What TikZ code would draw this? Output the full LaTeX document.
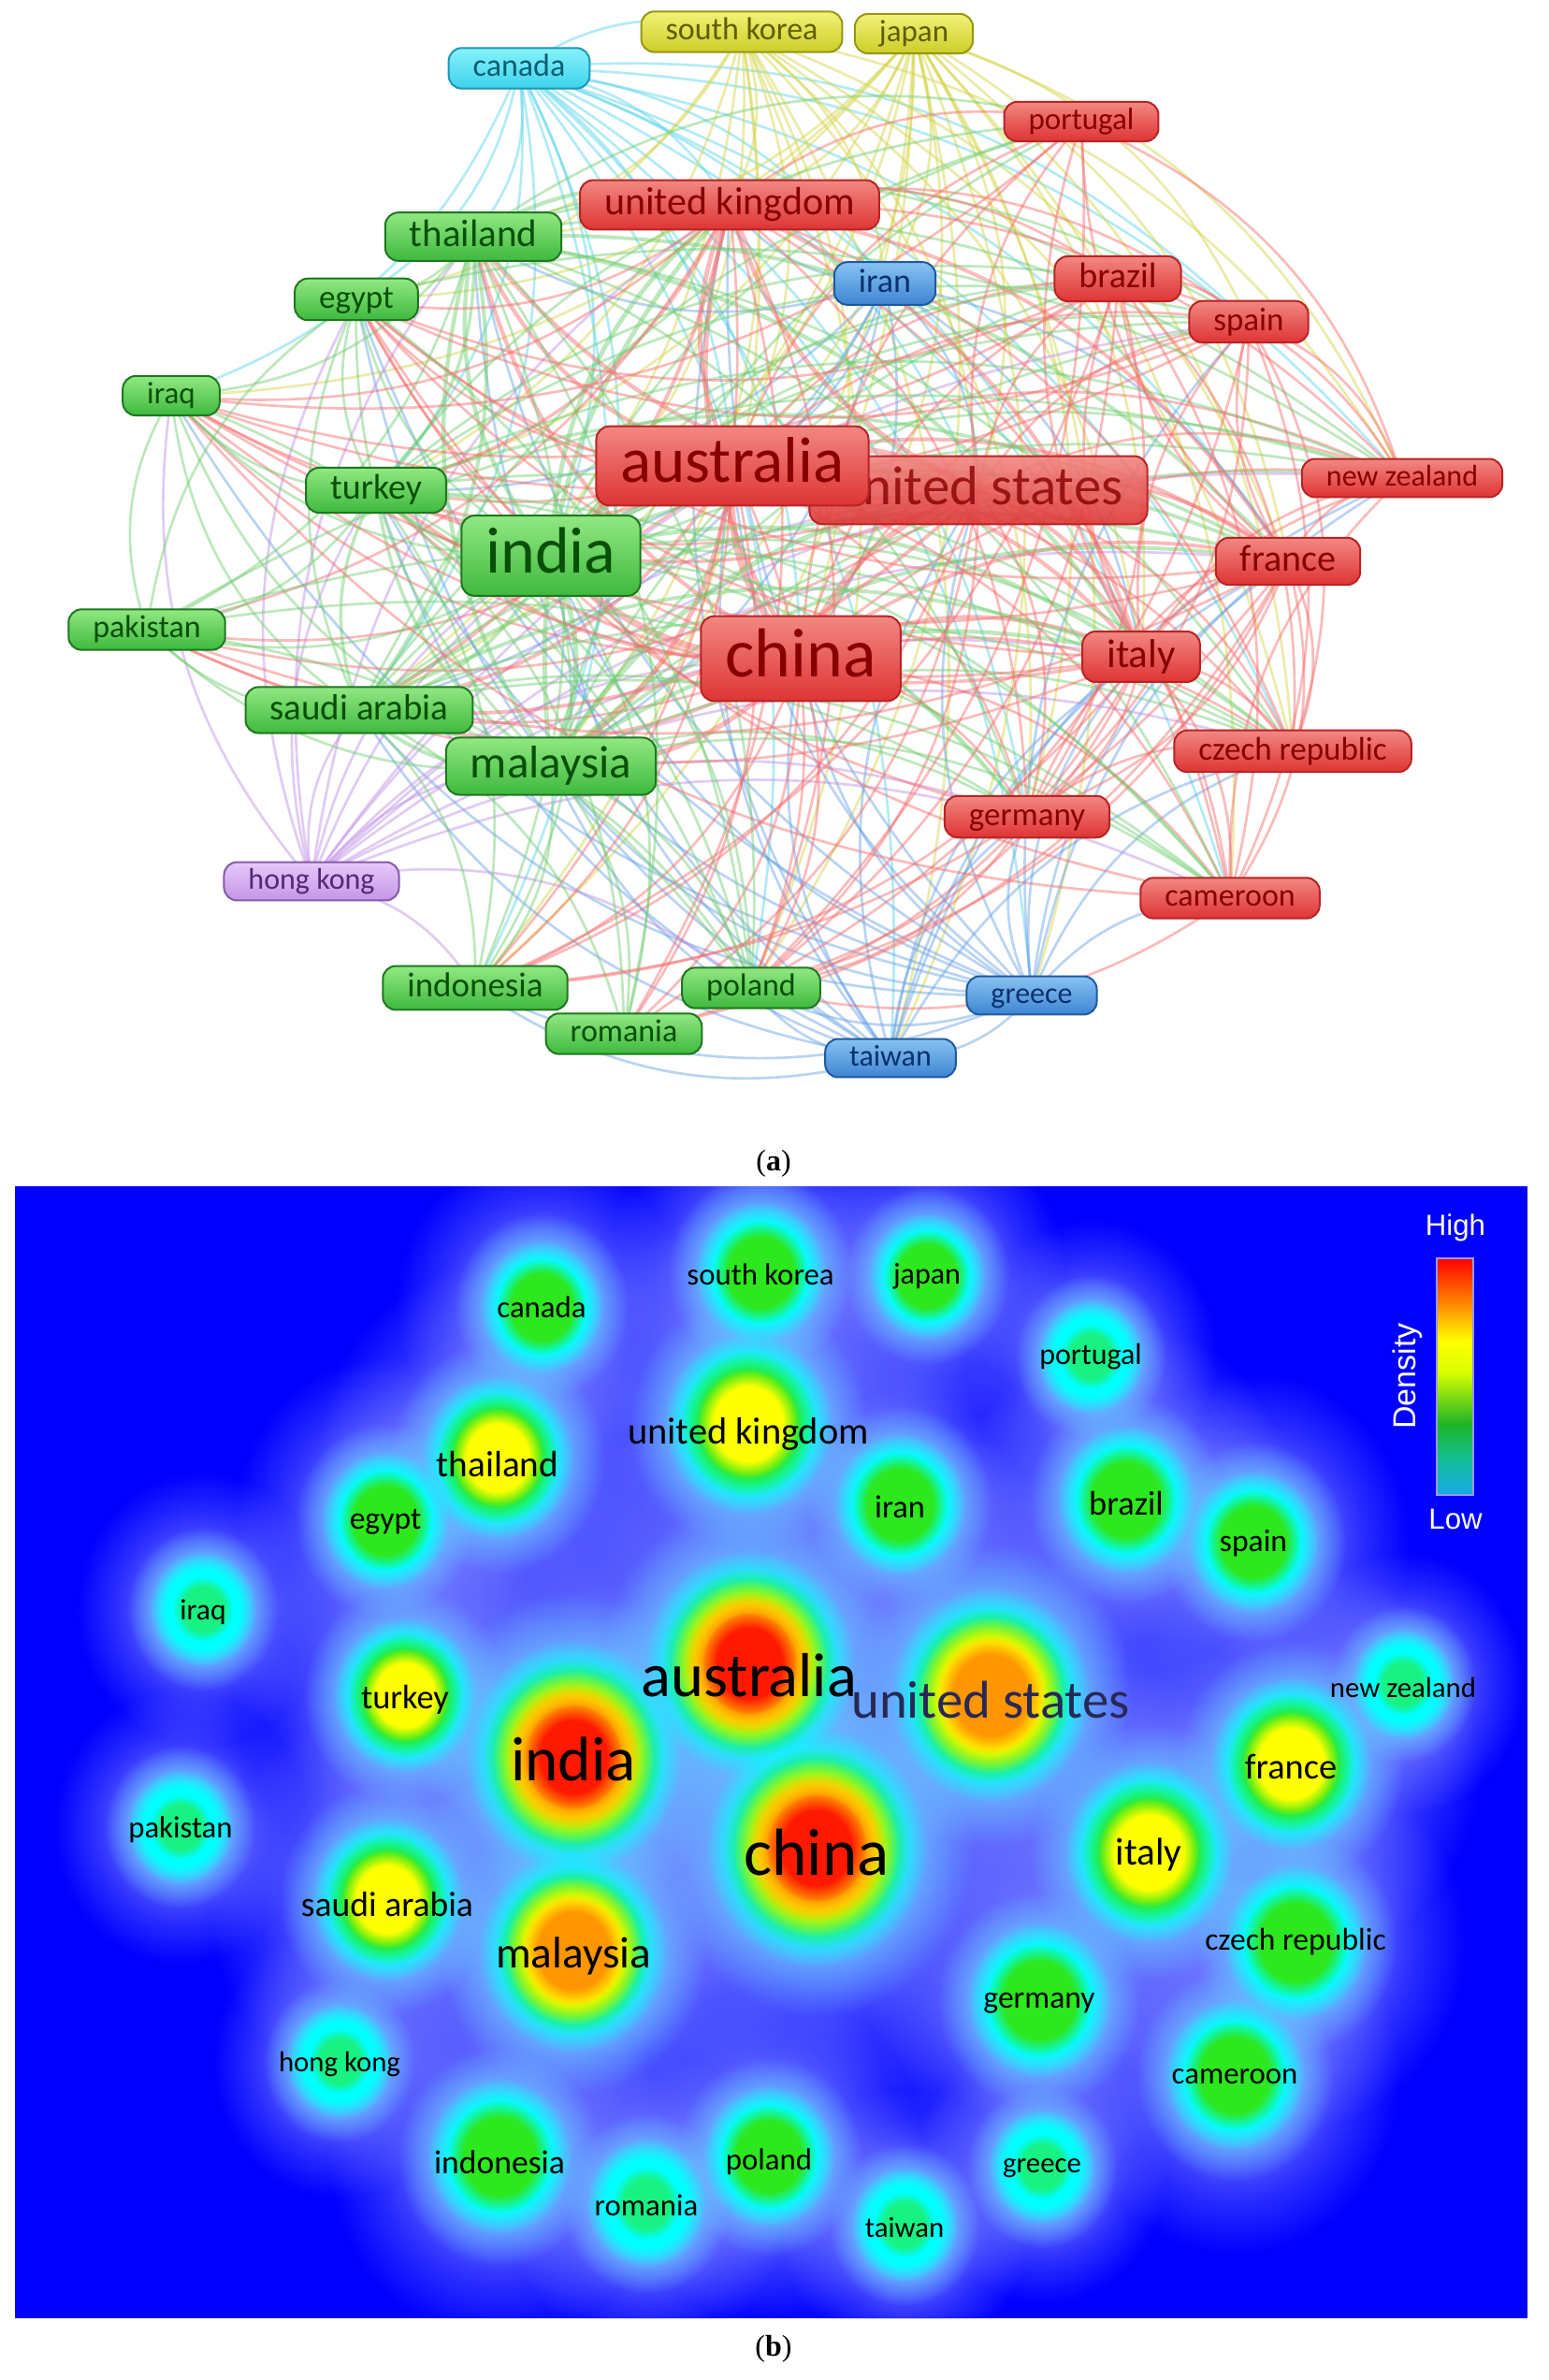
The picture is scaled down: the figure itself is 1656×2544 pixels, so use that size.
\documentclass[tikz,border=0pt]{standalone}
\usepackage{fontspec}
\setmainfont{Carlito}
\newfontfamily\capfont{Liberation Serif}
\newfontfamily\legfont{Liberation Sans}
\usetikzlibrary{fadings}
\pgfdeclarelayer{heatlayer}
\pgfdeclarelayer{edgelayer}
\pgfsetlayers{heatlayer,edgelayer,main}

% node colours
\definecolor{rdT}{RGB}{242,135,130}\definecolor{rdB}{RGB}{222,52,52}\definecolor{rdD}{RGB}{185,35,35}\definecolor{rdX}{RGB}{135,0,0}
\definecolor{grT}{RGB}{145,232,130}\definecolor{grB}{RGB}{62,185,62}\definecolor{grD}{RGB}{30,120,30}\definecolor{grX}{RGB}{8,80,8}
\definecolor{blT}{RGB}{135,195,242}\definecolor{blB}{RGB}{62,132,210}\definecolor{blD}{RGB}{30,90,160}\definecolor{blX}{RGB}{10,50,110}
\definecolor{yeT}{RGB}{242,242,120}\definecolor{yeB}{RGB}{205,205,40}\definecolor{yeD}{RGB}{150,150,20}\definecolor{yeX}{RGB}{95,95,0}
\definecolor{cyT}{RGB}{135,242,252}\definecolor{cyB}{RGB}{60,210,235}\definecolor{cyD}{RGB}{30,150,180}\definecolor{cyX}{RGB}{10,95,115}
\definecolor{puT}{RGB}{232,200,250}\definecolor{puB}{RGB}{195,150,230}\definecolor{puD}{RGB}{130,90,170}\definecolor{puX}{RGB}{85,40,115}
% edge colours
\definecolor{erd}{RGB}{245,105,105}\definecolor{egr}{RGB}{110,205,110}\definecolor{ebl}{RGB}{100,160,230}
\definecolor{eye}{RGB}{212,212,70}\definecolor{ecy}{RGB}{85,212,235}\definecolor{epu}{RGB}{190,140,230}
% heat colours
\definecolor{hbg}{RGB}{0,0,255}\definecolor{hhalo}{RGB}{125,135,255}\definecolor{hsky}{RGB}{100,190,255}\definecolor{hcy}{RGB}{0,255,255}
\definecolor{hgr}{RGB}{45,232,30}\definecolor{hye}{RGB}{255,255,0}\definecolor{hor}{RGB}{255,150,0}\definecolor{hrd}{RGB}{255,25,0}
\definecolor{barbot}{RGB}{25,170,235}\definecolor{barteal}{RGB}{20,190,150}\definecolor{bargr}{RGB}{30,180,40}
\definecolor{uslab}{RGB}{40,40,85}

\pgfdeclareradialshading{shSoft}{\pgfpointorigin}{color(0bp)=(white); color(17bp)=(white); color(25bp)=(black); color(50bp)=(black)}
\pgfdeclarefading{softedge}{\pgfuseshading{shSoft}}
\pgfdeclareradialshading{shSky}{\pgfpointorigin}{color(0bp)=(white); color(13bp)=(white); color(25bp)=(black); color(50bp)=(black)}
\pgfdeclarefading{skyfade}{\pgfuseshading{shSky}}
\pgfdeclareradialshading{shHalo}{\pgfpointorigin}{color(0bp)=(black!10); color(10bp)=(black!25); color(17bp)=(black!65); color(25bp)=(black); color(50bp)=(black)}
\pgfdeclarefading{halofade}{\pgfuseshading{shHalo}}
% path box maps to 25bp..75bp
\pgfdeclareverticalshading{densbar}{100bp}{color(0bp)=(barbot); color(25bp)=(barbot); color(32.5bp)=(barteal); color(40bp)=(bargr); color(51bp)=(yellow!85!green); color(57.5bp)=(yellow); color(66bp)=(orange); color(75bp)=(red); color(100bp)=(red)}

\tikzset{
  box/.style={rounded corners=3.5pt, line width=0.5pt, inner xsep=6.5pt},
  fs/.style={font=\fontsize{#1pt}{#1pt}\selectfont, text height={0.72*#1pt}, text depth={0.2*#1pt}, inner ysep={0.13*#1pt+0.4pt}},
  rd/.style={box, top color=rdT, bottom color=rdB, draw=rdD, text=rdX},
  gr/.style={box, top color=grT, bottom color=grB, draw=grD, text=grX},
  bl/.style={box, top color=blT, bottom color=blB, draw=blD, text=blX},
  ye/.style={box, top color=yeT, bottom color=yeB, draw=yeD, text=yeX},
  cy/.style={box, top color=cyT, bottom color=cyB, draw=cyD, text=cyX},
  pu/.style={box, top color=puT, bottom color=puB, draw=puD, text=puX},
  hl/.style={font=\fontsize{#1pt}{#1pt}\selectfont, text=black, inner sep=0pt},
  link/.style={draw opacity=0.45, bend left=24},
  caption/.style={font=\capfont\fontsize{8pt}{8pt}\selectfont, inner sep=0pt}
}

\begin{document}
\begin{tikzpicture}[x=0.25pt, y=-0.25pt]
\useasboundingbox (0,0) rectangle (1656,2544);
\begin{pgfonlayer}{heatlayer}
\fill[white] (0,0) rectangle (1656,2544);
\end{pgfonlayer}

% ---------------- (a) network ----------------
\node[cy, fs=8.5]   (canada)   at (555,73)   {canada};
\node[ye, fs=8.5]   (skorea)   at (793,34)   {south korea};
\node[ye, fs=8.25]  (japan)    at (977,36)   {japan};
\node[rd, fs=8.25]  (portugal) at (1156,130) {portugal};
\node[rd, fs=10.5]  (uk)       at (780,219)  {united kingdom};
\node[gr, fs=10.25] (thailand) at (506,253)  {thailand};
\node[bl, fs=9]     (iran)     at (946,303)  {iran};
\node[rd, fs=9.5]   (brazil)   at (1195,298) {brazil};
\node[rd, fs=8.75]  (spain)    at (1335,344) {spain};
\node[gr, fs=8.75]  (egypt)    at (381,320)  {egypt};
\node[gr, fs=8.25]  (iraq)     at (183,423)  {iraq};
\node[gr, fs=9.5]   (turkey)   at (402,524)  {turkey};
\node[rd, fs=14.75, fill opacity=0.9, text opacity=0.8] (usa) at (1046,524) {united states};
\node[rd, fs=17.25] (australia) at (783,498) {australia};
\node[gr, fs=17.5]  (india)    at (589,594)  {india};
\node[rd, fs=8]     (nz)       at (1499,511) {new zealand};
\node[rd, fs=10]    (france)   at (1377,600) {france};
\node[gr, fs=8.5]   (pakistan) at (157,673)  {pakistan};
\node[rd, fs=18.5]  (china)    at (856,704)  {china};
\node[rd, fs=10.75] (italy)    at (1220,702) {italy};
\node[gr, fs=9.75]  (saudi)    at (384,759)  {saudi arabia};
\node[gr, fs=12.25] (malaysia) at (589,819)  {malaysia};
\node[rd, fs=8.75]  (czech)    at (1382,803) {czech republic};
\node[rd, fs=8.75]  (germany)  at (1098,873) {germany};
\node[pu, fs=8]     (hongkong) at (333,942)  {hong kong};
\node[rd, fs=8.5]   (cameroon) at (1315,960) {cameroon};
\node[gr, fs=9.25]  (indonesia) at (508,1056) {indonesia};
\node[gr, fs=8.5]   (poland)   at (803,1056) {poland};
\node[bl, fs=8]     (greece)   at (1103,1064) {greece};
\node[gr, fs=8.5]   (romania)  at (667,1105) {romania};
\node[bl, fs=8]     (taiwan)   at (952,1131) {taiwan};

\def\elist{canada/1/ecy, skorea/1/eye, japan/1/eye, iran/1/ebl, greece/1/ebl, taiwan/1/ebl, hongkong/1/epu, china/3/erd, india/3/egr, australia/3/erd, malaysia/2.2/egr, usa/2.6/erd, thailand/1.8/egr, uk/2/erd, saudi/1.6/egr, italy/1.8/erd, turkey/1.4/egr, france/1.6/erd, brazil/1/erd, indonesia/1/egr, spain/1/erd, germany/1/erd, pakistan/1/egr, czech/1/erd, cameroon/1/erd, egypt/1/egr, portugal/1/erd, nz/1/erd, iraq/1/egr, poland/1/egr, romania/1/egr}

\begin{pgfonlayer}{edgelayer}
\foreach \a/\wa/\ca [count=\i] in \elist {
  \foreach \b/\wb/\cb [count=\j] in \elist {
    \ifnum\j>\i
      \pgfmathtruncatemacro\sk{(\wa<1.1)*(\wb<1.1)*(mod(\i*\j+\i,4)==0)}
      \ifnum\sk=0
        \pgfmathsetmacro\lw{0.3+0.37*(min(\wa,\wb))^1.3}
        \draw[link, draw=\ca, line width=\lw pt] (\a.center) to (\b.center);
      \fi
    \fi
  }
}
\end{pgfonlayer}

\node[caption] (capa) at (827,1244) {(\textbf{a})};

% ---------------- (b) density ----------------
\def\heatlist{579/1397/60/2, 813/1360/64/2, 991/1364/57/2, 1166/1450/52/1, 800/1522/82/3, 532/1558/74/3, 412/1625/62/2, 962/1608/64/2, 1204/1603/67/2, 1340/1648/64/2, 217/1720/52/1, 433/1812/70/3, 801/1778/102/5, 1059/1812/97/4, 1500/1800/50/1, 613/1878/105/5, 1380/1885/78/3, 193/1953/52/1, 873/1975/108/5, 1228/1980/82/3, 414/2030/74/3, 613/2085/92/4, 1385/2076/70/2, 1111/2138/70/2, 363/2203/52/1, 1320/2218/68/2, 534/2305/70/2, 822/2305/64/2, 1114/2316/52/1, 691/2355/58/1, 967/2378/52/1}

\begin{pgfonlayer}{heatlayer}
\begin{scope}
\clip (16,1268) rectangle (1633,2478);
\fill[hbg] (16,1268) rectangle (1633,2478);
\foreach \x/\y/\r/\l in \heatlist {
  \pgfmathsetmacro\rx{0.25*\r*2.6}\pgfmathsetmacro\ry{\rx*1.08}
  \fill[hhalo, path fading=halofade] (\x,\y) ellipse [x radius=\rx pt, y radius=\ry pt];
}
\foreach \x/\y/\r/\l in \heatlist {
  \pgfmathsetmacro\rx{0.25*\r*1.55}\pgfmathsetmacro\ry{\rx*1.08}
  \fill[hsky, path fading=skyfade] (\x,\y) ellipse [x radius=\rx pt, y radius=\ry pt];
}
\foreach \x/\y/\r/\l in \heatlist {
  \pgfmathsetmacro\rx{0.25*\r*1.1}\pgfmathsetmacro\ry{\rx*1.08}
  \fill[hcy, path fading=softedge] (\x,\y) ellipse [x radius=\rx pt, y radius=\ry pt];
}
\foreach \x/\y/\r/\l in \heatlist {
  \pgfmathsetmacro\f{{0.62,0.8,0.88,0.9,0.92}[\l-1]}
  \pgfmathsetmacro\go{\l==1 ? 0.55 : 1}
  \pgfmathsetmacro\rx{0.25*\r*\f}\pgfmathsetmacro\ry{\rx*1.08}
  \fill[hgr, fill opacity=\go, path fading=softedge] (\x,\y) ellipse [x radius=\rx pt, y radius=\ry pt];
}
\foreach \x/\y/\r/\l in \heatlist {
  \ifnum\l>2
  \pgfmathsetmacro\f{{0,0,0.66,0.8,0.82}[\l-1]}
  \pgfmathsetmacro\rx{0.25*\r*\f}\pgfmathsetmacro\ry{\rx*1.08}
  \fill[hye, path fading=softedge] (\x,\y) ellipse [x radius=\rx pt, y radius=\ry pt];
  \fi
}
\foreach \x/\y/\r/\l in \heatlist {
  \ifnum\l>3
  \pgfmathsetmacro\f{{0,0,0,0.6,0.68}[\l-1]}
  \pgfmathsetmacro\rx{0.25*\r*\f}\pgfmathsetmacro\ry{\rx*1.08}
  \fill[hor, path fading=softedge] (\x,\y) ellipse [x radius=\rx pt, y radius=\ry pt];
  \fi
}
\foreach \x/\y/\r/\l in \heatlist {
  \ifnum\l>4
  \pgfmathsetmacro\rx{0.25*\r*0.5}\pgfmathsetmacro\ry{\rx*1.08}
  \fill[hrd, path fading=softedge] (\x,\y) ellipse [x radius=\rx pt, y radius=\ry pt];
  \fi
}
\end{scope}
\end{pgfonlayer}

\node[hl=8.2]  (hcanada)   at (579,1397)  {canada};
\node[hl=8.2]  (hskorea)   at (813,1362)  {south korea};
\node[hl=8]    (hjapan)    at (991,1364)  {japan};
\node[hl=8]    (hportugal) at (1166,1450) {portugal};
\node[hl=10.1] (huk)       at (800,1533)  {united kingdom};
\node[hl=9.8]  (hthailand) at (532,1565)  {thailand};
\node[hl=8.4]  (hegypt)    at (412,1627)  {egypt};
\node[hl=8.6]  (hiran)     at (962,1611)  {iran};
\node[hl=9.1]  (hbrazil)   at (1204,1607) {brazil};
\node[hl=8.4]  (hspain)    at (1340,1650) {spain};
\node[hl=7.9]  (hiraq)     at (217,1723)  {iraq};
\node[hl=9.1]  (hturkey)   at (433,1817)  {turkey};
\node[hl=16.6] (haustralia) at (801,1791) {australia};
\node[hl=14.2, text=uslab] (husa) at (1059,1817) {united states};
\node[hl=7.7]  (hnz)       at (1500,1804) {new zealand};
\node[hl=16.8] (hindia)    at (613,1880)  {india};
\node[hl=9.6]  (hfrance)   at (1380,1888) {france};
\node[hl=8.2]  (hpakistan) at (193,1956)  {pakistan};
\node[hl=17.8] (hchina)    at (873,1980)  {china};
\node[hl=10.3] (hitaly)    at (1228,1982) {italy};
\node[hl=9.4]  (hsaudi)    at (414,2036)  {saudi arabia};
\node[hl=11.8] (hmalaysia) at (613,2091)  {malaysia};
\node[hl=8.4]  (hczech)    at (1385,2076) {czech republic};
\node[hl=8.4]  (hgermany)  at (1111,2141) {germany};
\node[hl=7.7]  (hhongkong) at (363,2206)  {hong kong};
\node[hl=8.2]  (hcameroon) at (1320,2220) {cameroon};
\node[hl=8.9]  (hindonesia) at (534,2311) {indonesia};
\node[hl=8.2]  (hpoland)   at (822,2311)  {poland};
\node[hl=7.7]  (hgreece)   at (1114,2318) {greece};
\node[hl=8.2]  (hromania)  at (691,2357)  {romania};
\node[hl=7.7]  (htaiwan)   at (967,2381)  {taiwan};

% legend
\shade[shading=densbar, draw=black!30!blue!40, line width=0.3pt] (1536,1345) rectangle (1575,1598);
\node[font=\legfont\fontsize{7.8pt}{7.8pt}\selectfont, text=white, inner sep=0pt] (high) at (1556,1312) {High};
\node[font=\legfont\fontsize{7.8pt}{7.8pt}\selectfont, text=white, inner sep=0pt] (low) at (1556,1624) {Low};
\node[font=\legfont\fontsize{8.5pt}{8.5pt}\selectfont, text=white, inner sep=0pt, rotate=90] (dens) at (1505,1471) {Density};

\node[caption] (capb) at (827,2511) {(\textbf{b})};
\end{tikzpicture}
\end{document}
